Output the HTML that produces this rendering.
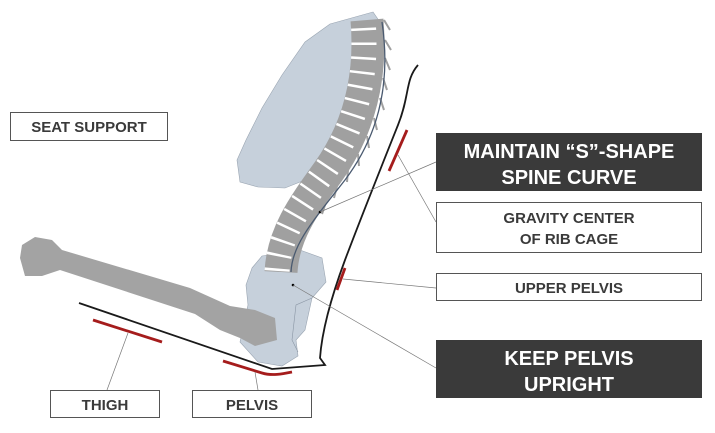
<!DOCTYPE html>
<html><head><style>
body{margin:0;background:#fff;width:715px;height:428px;overflow:hidden;font-family:"Liberation Sans",Arial,sans-serif}
</style></head><body>
<svg width="715" height="428" viewBox="0 0 715 428" xmlns="http://www.w3.org/2000/svg">
<!-- rib cage -->
<polygon points="373,12 330,24 305,42 282,75 262,108 246,140 237,160 240,182 258,187 285,188 305,180 318,165 340,130 360,95 378,55 382,25" fill="#c6d0db" stroke="#9aa5b2" stroke-width="0.6"/>
<!-- pelvis -->
<polygon points="252,268 262,256 300,250 322,258 326,282 312,298 305,330 296,340 298,356 282,366 258,362 240,342 248,305 246,285" fill="#c6d0db" stroke="#9aa5b2" stroke-width="0.6"/>
<path d="M312,298 L296,305 L292,340 L298,352" fill="none" stroke="#8a96a4" stroke-width="0.6"/>
<!-- femur -->
<polygon points="20,258 22,245 35,237 52,240 62,250 190,288 230,306 255,310 275,318 277,340 255,346 240,338 220,330 195,314 60,270 42,276 25,276" fill="#a3a3a3"/>
<!-- vertebral column -->
<path d="M367,20 C372,80 358,130 328,172 C302,208 283,235 281,272" fill="none" stroke="#a0a0a0" stroke-width="33"/>
<path d="M367,20 C372,80 358,130 328,172 C302,208 283,235 281,272" fill="none" stroke="#fff" stroke-width="25" stroke-dasharray="2.5 12" stroke-dashoffset="-8" transform="translate(-4,0)"/>
<g stroke="#a0a0a0" stroke-width="2">
<line x1="384" y1="20" x2="390" y2="30"/><line x1="385" y1="40" x2="391" y2="50"/><line x1="385" y1="58" x2="390" y2="70"/>
<line x1="383" y1="78" x2="387" y2="90"/><line x1="380" y1="98" x2="384" y2="110"/><line x1="374" y1="118" x2="377" y2="130"/>
<line x1="367" y1="136" x2="369" y2="148"/><line x1="358" y1="154" x2="359" y2="166"/><line x1="348" y1="170" x2="347" y2="182"/>
<line x1="337" y1="186" x2="334" y2="198"/><line x1="326" y1="202" x2="322" y2="214"/>
</g>
<!-- spine line -->
<path d="M382,22 C392,90 375,140 345,180 C312,222 292,245 291,272" fill="none" stroke="#4a5a70" stroke-width="1.3"/>
<circle cx="320" cy="212" r="1.3" fill="#000"/>
<circle cx="293" cy="285" r="1.3" fill="#000"/>
<!-- seat -->
<path d="M418,65 C405,80 410,95 398,125 C380,170 360,220 345,260 C332,295 322,330 320,358 L325,365 L272,369 L79,303" fill="none" stroke="#1a1a1a" stroke-width="1.8"/>
<!-- red marks -->
<g stroke="#a51c1c" stroke-width="2.8" fill="none">
<line x1="407" y1="130" x2="389" y2="171"/>
<line x1="345" y1="268" x2="337" y2="290"/>
<line x1="93" y1="320" x2="162" y2="342"/>
<path d="M223,361 L262,373 C272,376 282,374 292,372"/>
</g>
<!-- leaders -->
<g stroke="#777" stroke-width="0.7" fill="none">
<line x1="398" y1="155" x2="436" y2="222"/>
<line x1="320" y1="212" x2="436" y2="162"/>
<line x1="343" y1="279" x2="436" y2="288"/>
<line x1="293" y1="285" x2="436" y2="368"/>
<line x1="128" y1="333" x2="107" y2="390"/>
<line x1="255" y1="372" x2="258" y2="390"/>
</g>
<!-- boxes -->
<g font-family="Liberation Sans,Arial,sans-serif" font-weight="bold" text-anchor="middle">
<rect x="10.5" y="112.5" width="157" height="28" fill="#fff" stroke="#555"/>
<text x="89" y="132" font-size="15" fill="#3a3a3a">SEAT SUPPORT</text>
<rect x="436" y="133" width="266" height="58" fill="#3a3a3a"/>
<text x="569" y="158" font-size="20" fill="#fff">MAINTAIN “S”-SHAPE</text>
<text x="569" y="184" font-size="20" fill="#fff">SPINE CURVE</text>
<rect x="436.5" y="202.5" width="265" height="50" fill="#fff" stroke="#555"/>
<text x="569" y="223" font-size="15" fill="#3a3a3a">GRAVITY CENTER</text>
<text x="569" y="244" font-size="15" fill="#3a3a3a">OF RIB CAGE</text>
<rect x="436.5" y="273.5" width="265" height="27" fill="#fff" stroke="#555"/>
<text x="569" y="293" font-size="15" fill="#3a3a3a">UPPER PELVIS</text>
<rect x="436" y="340" width="266" height="58" fill="#3a3a3a"/>
<text x="569" y="365" font-size="20" fill="#fff">KEEP PELVIS</text>
<text x="569" y="391" font-size="20" fill="#fff">UPRIGHT</text>
<rect x="50.5" y="390.5" width="109" height="27" fill="#fff" stroke="#555"/>
<text x="105" y="410" font-size="15" fill="#3a3a3a">THIGH</text>
<rect x="192.5" y="390.5" width="119" height="27" fill="#fff" stroke="#555"/>
<text x="252" y="410" font-size="15" fill="#3a3a3a">PELVIS</text>
</g>
</svg>
</body></html>
